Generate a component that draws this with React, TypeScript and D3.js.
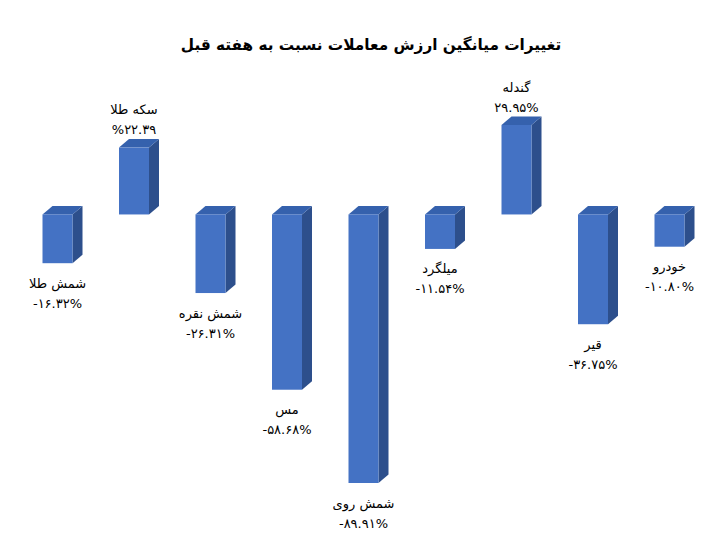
import React from "react";
import * as d3 from "d3";

const title = "تغییرات میانگین ارزش معاملات نسبت به هفته قبل";
const categories = ["شمش طلا", "سکه طلا", "شمش نقره", "مس", "شمش روی", "میلگرد", "گندله", "قیر", "خودرو"];
const values = [-16.32, 22.39, -26.31, -58.68, -89.91, -11.54, 29.95, -36.75, -10.8];
const valueLabels = ["-۱۶.۳۲%", "%۲۲.۳۹", "-۲۶.۳۱%", "-۵۸.۶۸%", "-۸۹.۹۱%", "-۱۱.۵۴%", "۲۹.۹۵%", "-۳۶.۷۵%", "-۱۰.۸۰%"];

const W = 702;
const H = 556;
const FRONT = "#4472C4";
const TOP = "#3561AD";
const SIDE = "#2D4F8C";
const FONT = "'DejaVu Sans', sans-serif";

export default function App() {
  const x = d3.scalePoint<string>().domain(categories).range([57.5, 669.5]);
  const y = d3.scaleLinear().domain([-89.91, 29.95]).range([483, 125]);
  const bw = 30;
  const dx = 10;
  const dy = 8.5;
  const y0 = y(0);

  return (
    <svg width={W} height={H} style={{ position: "absolute", left: 0, top: 0, background: "#fff" }}>
      <rect width={W} height={H} fill="#fff" />
      <text x={371} y={45} dy="0.35em" textAnchor="middle" fontFamily={FONT} fontWeight="bold" fontSize={15.3} fill="#000" direction="rtl">
        {title}
      </text>
      {categories.map((c, i) => {
        const v = values[i];
        const cx = x(c)!;
        const x0 = cx - bw / 2;
        const x1 = cx + bw / 2;
        const yt = Math.min(y(v), y0);
        const yb = Math.max(y(v), y0);
        const top = `M${x0},${yt} L${x0 + dx},${yt - dy} L${x1 + dx},${yt - dy} L${x1},${yt} Z`;
        const side = `M${x1},${yt} L${x1 + dx},${yt - dy} L${x1 + dx},${yb - dy} L${x1},${yb} Z`;
        const pos = v >= 0;
        const nameY = pos ? yt - 38 : yb + 20;
        const valY = pos ? yt - 18 : yb + 40;
        return (
          <g key={c}>
            <path d={side} fill={SIDE} />
            <path d={top} fill={TOP} />
            <rect x={x0} y={yt} width={bw} height={yb - yt} fill={FRONT} />
            <text x={cx} y={nameY} dy="0.35em" textAnchor="middle" fontFamily={FONT} fontSize={13} fill="#000" direction="rtl">
              {c}
            </text>
            <text x={cx} y={valY} dy="0.35em" textAnchor="middle" fontFamily={FONT} fontSize={13} fill="#000" direction="ltr" unicodeBidi="bidi-override">
              {valueLabels[i]}
            </text>
          </g>
        );
      })}
    </svg>
  );
}
